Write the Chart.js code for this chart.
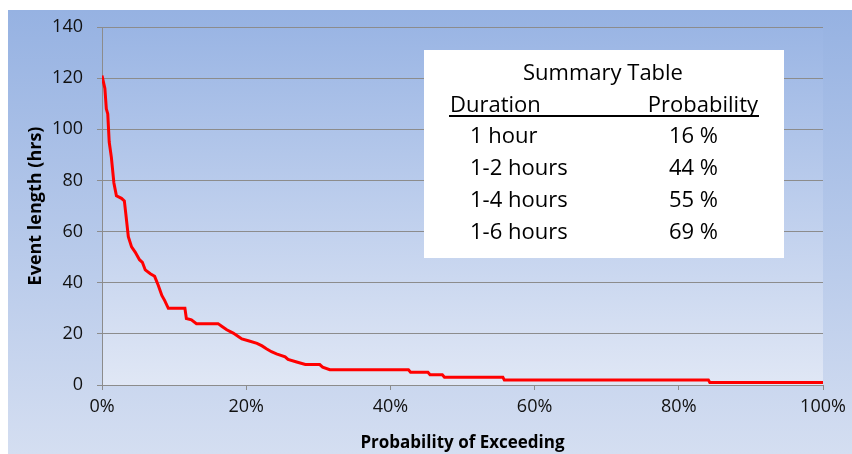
<!DOCTYPE html>
<html>
  <head>
    <title>Event length exceedance</title>
    <script src="https://cdn.jsdelivr.net/npm/chart.js"></script>
    <style>
      body { margin: 0; background: #ffffff; }
      #wrap { width: 852px; height: 454px; }
    </style>
  </head>
  <body>
    <div id="wrap"><canvas id="exceedChart" width="852" height="454"></canvas></div>

    <script>
      // exceedance curve (percent, hours)
      const exceedPct = [
        0, 0.4, 0.6, 0.8, 1.0, 1.3, 1.65, 2.0, 2.7, 3.1, 3.3, 3.65, 4.1, 4.6, 5.2, 5.6,
        6.0, 6.7, 7.3, 7.8, 8.3, 8.7, 9.2, 11.5, 11.7, 12.4, 13.1, 16.1, 16.6, 17.3,
        18.2, 18.9, 19.4, 20.3, 21.5, 22.2, 22.8, 23.5, 24.2, 25.4, 25.8, 27.0, 28.2,
        30.2, 30.6, 31.6, 42.5, 42.8, 45.2, 45.5, 47.2, 47.5, 55.6, 55.8, 84.1, 84.3, 100
      ];
      const eventHours = [
        121, 116, 108, 106, 95, 89, 79, 74, 73, 72, 67, 58, 54, 52, 49, 48,
        45, 43.5, 42.5, 39, 35, 33, 30, 30, 26, 25.5, 24, 24, 23, 21.6,
        20.3, 19, 18, 17.3, 16.3, 15.3, 14.2, 13, 12.2, 11, 10, 9, 8,
        8, 7, 6, 6, 5, 5, 4, 4, 3, 3, 2, 2, 1, 1
      ];

      // summary table
      const tableTitle = "Summary Table";
      const durationLabels = ["1 hour", "1-2 hours", "1-4 hours", "1-6 hours"];
      const durationProbs = ["16 %", "44 %", "55 %", "69 %"];

      const fontName = "'Open Sans', 'DejaVu Sans', sans-serif";

      // gradient backgrounds behind the chart and the plot area
      const bgPlugin = {
        id: "bgGradient",
        beforeDraw(chart) {
          const ctx = chart.ctx;
          const a = chart.chartArea;
          ctx.save();
          let g = ctx.createLinearGradient(0, 10, 0, chart.height);
          g.addColorStop(0, "#96b2e2");
          g.addColorStop(1, "#d4def1");
          ctx.fillStyle = g;
          ctx.fillRect(8, 10, chart.width - 8, chart.height - 10);
          g = ctx.createLinearGradient(0, a.top, 0, a.bottom);
          g.addColorStop(0, "#9ab5e4");
          g.addColorStop(1, "#e0e7f5");
          ctx.fillStyle = g;
          ctx.fillRect(a.left, a.top, a.right - a.left, a.bottom - a.top);
          ctx.restore();
        },
      };

      // white summary box in the upper right
      const tablePlugin = {
        id: "summaryTable",
        afterDraw(chart) {
          const ctx = chart.ctx;
          ctx.save();
          ctx.fillStyle = "#ffffff";
          ctx.fillRect(424, 50, 360, 208);
          ctx.fillStyle = "#000000";
          ctx.font = "22px " + fontName;
          ctx.textBaseline = "alphabetic";
          ctx.textAlign = "center";
          ctx.fillText(tableTitle, 603, 80);
          ctx.textAlign = "left";
          ctx.fillText("Duration", 450, 112);
          ctx.textAlign = "right";
          ctx.fillText("Probability", 758, 112);
          ctx.fillRect(449, 115, 310, 2);
          durationLabels.forEach((lbl, i) => {
            const y = 143 + i * 32;
            ctx.textAlign = "left";
            ctx.fillText(lbl, 470, y);
            ctx.textAlign = "right";
            ctx.fillText(durationProbs[i], 718, y);
          });
          ctx.restore();
        },
      };

      const points = exceedPct.map((p, i) => ({ x: p, y: eventHours[i] }));

      new Chart(document.getElementById("exceedChart"), {
        type: "line",
        data: {
          datasets: [
            {
              data: points,
              borderColor: "#ff0000",
              borderWidth: 3,
              pointRadius: 0,
              tension: 0,
              fill: false,
            },
          ],
        },
        options: {
          responsive: false,
          animation: false,
          layout: { padding: { left: 8, top: 27, right: 29, bottom: 0 } },
          plugins: { legend: { display: false }, tooltip: { enabled: false } },
          scales: {
            x: {
              type: "linear",
              min: 0,
              max: 100,
              afterFit: (s) => { s.height = 69; },
              ticks: {
                stepSize: 20,
                color: "#111",
                padding: 6,
                font: { family: fontName, size: 18 },
                callback: (v) => v + "%",
              },
              grid: { drawOnChartArea: false, tickLength: 5, color: "#8c8c8c", lineWidth: 1 },
              border: { color: "#8c8c8c", width: 1 },
              title: {
                display: true,
                text: "Probability of Exceeding",
                color: "#000",
                padding: { top: 0, bottom: 1 },
                font: { family: fontName, size: 17, weight: "bold" },
              },
            },
            y: {
              min: 0,
              max: 140,
              afterFit: (s) => { s.width = 94; },
              ticks: {
                stepSize: 20,
                color: "#111",
                padding: 14,
                font: { family: fontName, size: 18 },
              },
              grid: { tickLength: 5, color: "#8c8c8c", lineWidth: 1 },
              border: { color: "#8c8c8c", width: 1 },
              title: {
                display: true,
                text: "Event length (hrs)",
                color: "#000",
                padding: { top: 17, bottom: 0 },
                font: { family: fontName, size: 18, weight: "bold" },
              },
            },
          },
        },
        plugins: [bgPlugin, tablePlugin],
      });
    </script>
  </body>
</html>
